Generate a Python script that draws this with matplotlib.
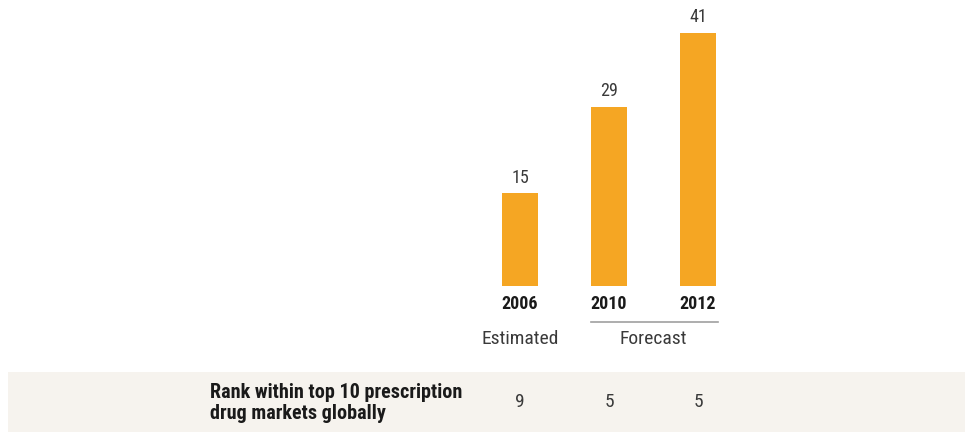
import matplotlib
matplotlib.use("Agg")
import matplotlib.pyplot as plt
from matplotlib.patches import Rectangle
import matplotlib.transforms as mtransforms

years = ["2006", "2010", "2012"]
values = [15, 29, 41]
ranks = ["9", "5", "5"]
phase_labels = ["Estimated", "Forecast"]
rank_label = "Rank within top 10 prescription\ndrug markets globally"

W, H = 967, 434
bar_color = "#f5a623"
text_color = "#3a3a3a"
plt.rcParams["font.family"] = ["Roboto Condensed", "Liberation Sans Narrow",
                               "Liberation Sans", "DejaVu Sans"]

fig = plt.figure(figsize=(W / 100, H / 100), dpi=100)
fig.patch.set_facecolor("white")

# axes spanning whole figure; data coords mapped to pixel positions
x0, step = 520, 89
base, scale = 148, 6.17
ax = fig.add_axes([0, 0, 1, 1])
ax.set_xlim(-x0 / step, (W - x0) / step)
ax.set_ylim(-base / scale, (H - base) / scale)
ax.axis("off")

# grey band at the bottom
ax.add_patch(Rectangle((8 / W, 2 / H), (W - 10) / W, 60 / H,
                       transform=fig.transFigure, facecolor="#f6f3ee",
                       edgecolor="none", zorder=0, clip_on=False))

xs = list(range(len(years)))
ax.bar(xs, values, width=36 / step, color=bar_color, zorder=2)

def fy(py):
    # pixel from top -> figure fraction
    return 1 - py / H

blend = mtransforms.blended_transform_factory(ax.transData, fig.transFigure)

for x, v in zip(xs, values):
    ax.annotate(str(v), (x, v), xytext=(0, 5), textcoords="offset points",
                ha="center", va="bottom", fontsize=13, color=text_color)

for x, yr in zip(xs, years):
    ax.text(x, fy(304), yr, transform=blend, ha="center", va="center",
            fontsize=13, fontweight="bold", color="#1a1a1a")

# line over forecast years
ax.plot([xs[1] - 18 / step, xs[2] + 20 / step], [fy(322), fy(322)],
        transform=blend, color="#a0a0a0", lw=1.2, clip_on=False)
ax.text(xs[0], fy(339), phase_labels[0], transform=blend, ha="center",
        va="center", fontsize=14, color=text_color)
ax.text((xs[1] + xs[2]) / 2, fy(339), phase_labels[1], transform=blend,
        ha="center", va="center", fontsize=14, color=text_color)

fig.text(210 / W, fy(403), rank_label, ha="left", va="center", fontsize=14.5,
         fontweight="bold", color="#1a1a1a", linespacing=1.12, zorder=3)
for x, r in zip(xs, ranks):
    ax.text(x, fy(402), r, transform=blend, ha="center", va="center",
            fontsize=14, color=text_color, zorder=3)

fig.savefig("out.png", dpi=100)
